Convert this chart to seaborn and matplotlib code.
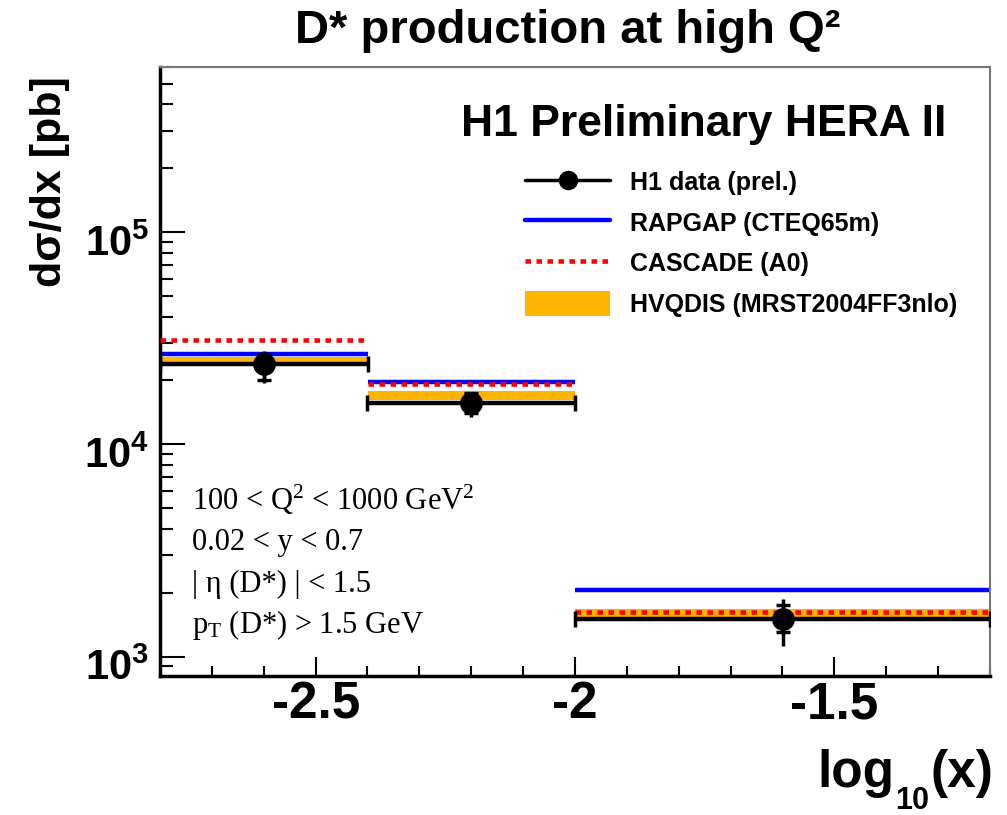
import numpy as np
import matplotlib
matplotlib.use("Agg")
import matplotlib.pyplot as plt
import matplotlib.transforms as mtransforms
from matplotlib.lines import Line2D
from matplotlib.patches import Patch
from matplotlib.ticker import LogLocator, NullFormatter, FixedLocator, MultipleLocator
import seaborn as sns

# D* cross section in bins of log10(x)
bin_lo = [-2.8, -2.4, -2.0]
bin_hi = [-2.4, -2.0, -1.2]
x_center = [-2.6, -2.2, -1.6]
h1_data = [23800, 15600, 1510]
stat_lo = [20100, 14000, 1300]
stat_hi = [26800, 17400, 1750]
tot_lo = [19400, 13500, 1120]
tot_hi = [27500, 17600, 1870]
rapgap = [26800, 19600, 2050]
cascade = [30900, 19200, 1620]
hvqdis_lo = [24100, 16200, 1480]
hvqdis_hi = [25900, 17900, 1680]

sns.set_theme(style="ticks")
plt.rcParams['font.family'] = ['Liberation Sans', 'DejaVu Sans']
plt.rcParams['mathtext.fontset'] = 'custom'
plt.rcParams['mathtext.rm'] = 'Liberation Serif'
plt.rcParams['mathtext.it'] = 'Liberation Serif:italic'
plt.rcParams['mathtext.bf'] = 'Liberation Sans:bold'
for key in ['text.color', 'axes.labelcolor', 'xtick.color', 'ytick.color']:
    plt.rcParams[key] = 'black'

orange = '#ffb400'
dots = (0, (1.2, 1.2))

fig = plt.figure(figsize=(10.07, 8.15), dpi=100)
ax = fig.add_axes([160/1007, 1-676/815, 830/1007, (676-67)/815])

# HVQDIS band
for i in range(len(bin_lo)):
    ax.fill_between([bin_lo[i], bin_hi[i]], hvqdis_lo[i], hvqdis_hi[i],
                    color=orange, lw=0, zorder=1)
ax.hlines(rapgap, bin_lo, bin_hi, color='#0000ff', lw=3.2, zorder=2)
ax.hlines(cascade, bin_lo, bin_hi, color='#ff0000', lw=3.3,
          linestyles=[dots], zorder=3)

# data: bin width, total and stat errors
h1 = np.array(h1_data)
xc = np.array(x_center)
xerr = (np.array(bin_hi) - np.array(bin_lo)) / 2
ax.errorbar(np.array(bin_lo) + xerr, h1, xerr=xerr, fmt='none', ecolor='black',
            elinewidth=3.2, capsize=5.5, capthick=2.5, zorder=4)
ax.errorbar(xc, h1, yerr=[h1 - np.array(tot_lo), np.array(tot_hi) - h1], fmt='none',
            ecolor='black', elinewidth=2.5, capsize=0, zorder=4)
ax.errorbar(xc, h1, yerr=[h1 - np.array(stat_lo), np.array(stat_hi) - h1], fmt='none',
            ecolor='black', elinewidth=2.5, capsize=4.7, capthick=2.5, zorder=4)
sns.scatterplot(x=x_center, y=h1_data, color='black', s=230, edgecolor='black',
                ax=ax, zorder=5, legend=False)

ax.set_yscale('log')
ax.set_xlim(-2.8, -1.2)
ax.set_ylim(810, 6.0e5)

ax.yaxis.set_major_locator(FixedLocator([1e3, 1e4, 1e5]))
ax.yaxis.set_minor_locator(LogLocator(base=10, subs=np.arange(2, 10)))
ax.yaxis.set_minor_formatter(NullFormatter())
ax.set_yticklabels([r'$\mathbf{10^{3}}$', r'$\mathbf{10^{4}}$', r'$\mathbf{10^{5}}$'])
ax.xaxis.set_major_locator(FixedLocator([-2.5, -2.0, -1.5]))
ax.xaxis.set_minor_locator(MultipleLocator(0.1))
ax.set_xticklabels(['-2.5', '-2', '-1.5'], fontweight='bold')

ax.tick_params(axis='both', which='both', direction='in', top=False, right=False,
               color='black', width=1.5)
ax.tick_params(axis='y', which='major', length=18, labelsize=30, pad=8)
ax.tick_params(axis='y', which='minor', length=9.4)
ax.tick_params(axis='x', which='major', length=14, labelsize=37, pad=3)
ax.tick_params(axis='x', which='minor', length=7)
shift = mtransforms.ScaledTranslation(0, -8/100, fig.dpi_scale_trans)
for lab in ax.get_yticklabels():
    lab.set_transform(lab.get_transform() + shift)

for side in ['left', 'bottom']:
    ax.spines[side].set_linewidth(2.5)
    ax.spines[side].set_color('black')
for side in ['top', 'right']:
    ax.spines[side].set_linewidth(1.5)
    ax.spines[side].set_color('#777777')

fig.text(568/1007, 1 - 31/815, 'D* production at high Q²', ha='center', va='center',
         fontsize=34, fontweight='bold')
ax.text(0.948, 0.905, 'H1 Preliminary HERA II', transform=ax.transAxes,
        ha='right', va='center', fontsize=32, fontweight='bold')
fig.text(50/1007, 1 - 182/815, 'dσ/dx [pb]', rotation=90, ha='center', va='center',
         fontsize=31, fontweight='bold')

# x axis title: log10(x) with a low subscript
renderer = fig.canvas.get_renderer()
xt_base = 1 - 787/815
t_par = fig.text(993/1007, xt_base, '(x)', ha='right', va='baseline',
                 fontsize=37, fontweight='bold')
left = t_par.get_window_extent(renderer).x0 / fig.bbox.width
t_sub = fig.text(left - 1/1007, xt_base - 22/815, '10', ha='right', va='baseline',
                 fontsize=22, fontweight='bold')
left = t_sub.get_window_extent(renderer).x0 / fig.bbox.width
fig.text(left - 1/1007, xt_base, 'log', ha='right', va='baseline',
         fontsize=37, fontweight='bold')

cuts = [r'100 < Q$^{2}$ < 1000 GeV$^{2}$',
        '0.02 < y < 0.7',
        '| η (D*) | < 1.5',
        r'p$_{\mathrm{T}}$ (D*) > 1.5 GeV']
cut_base = [510, 550, 592, 633]
for c, yb in zip(cuts, cut_base):
    fig.text(192/1007, 1 - yb/815, c, ha='left', va='baseline', fontsize=22,
             fontfamily='Liberation Serif')

handles = [Line2D([0], [0], color='black', lw=2.5, marker='o', markersize=13),
           Line2D([0], [0], color='#0000ff', lw=3.2),
           Line2D([0], [0], color='#ff0000', lw=3.3, linestyle=dots),
           Patch(facecolor=orange, edgecolor='none')]
labels = ['H1 data (prel.)', 'RAPGAP (CTEQ65m)', 'CASCADE (A0)', 'HVQDIS (MRST2004FF3nlo)']
ax.legend(handles, labels, loc='upper left', bbox_to_anchor=(365/830, 1 - 102/609),
          frameon=False, prop={'weight': 'bold', 'size': 18},
          handlelength=3.4, handleheight=1.2, labelspacing=0.57, handletextpad=0.8,
          borderaxespad=0, borderpad=0)

fig.savefig('out.png', dpi=100)
